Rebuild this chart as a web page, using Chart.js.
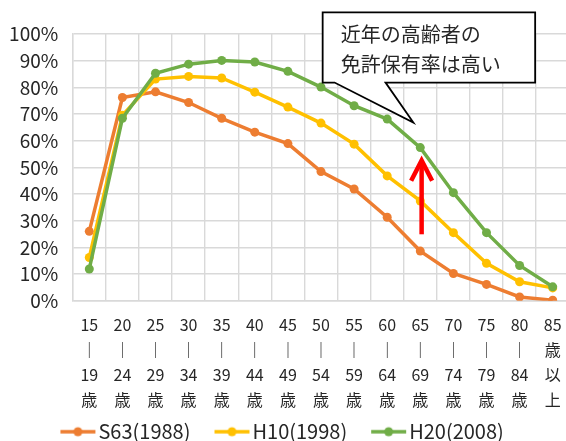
<!DOCTYPE html>
<html>
<head>
<meta charset="utf-8">
<script src="https://cdn.jsdelivr.net/npm/chart.js@4.4.1/dist/chart.umd.min.js"></script>
<style>
  html, body { margin: 0; padding: 0; background: #ffffff; overflow: hidden; }
  #wrap { width: 566px; height: 441px; overflow: hidden; }
  #chart { display: block; }
</style>
</head>
<body>
<!-- the plot runs a few pixels past the visible right edge -->
<div id="wrap"><canvas id="chart" width="570" height="441"></canvas></div>
<script>
// Age groups (x categories), drawn as stacked lines under each column
const ageGroups = [
  ['15', '｜', '19', '歳'], ['20', '｜', '24', '歳'], ['25', '｜', '29', '歳'],
  ['30', '｜', '34', '歳'], ['35', '｜', '39', '歳'], ['40', '｜', '44', '歳'],
  ['45', '｜', '49', '歳'], ['50', '｜', '54', '歳'], ['55', '｜', '59', '歳'],
  ['60', '｜', '64', '歳'], ['65', '｜', '69', '歳'], ['70', '｜', '74', '歳'],
  ['75', '｜', '79', '歳'], ['80', '｜', '84', '歳'], ['85', '歳', '以', '上']
];

// Series names
const seriesNames = ['S63(1988)', 'H10(1998)', 'H20(2008)'];

// License holding rate by age group (%)
const s63 = [26.0, 76.2, 78.3, 74.3, 68.4, 63.2, 58.9, 48.4, 41.9, 31.3, 18.6, 10.2, 6.1, 1.4, 0.2];
const h10 = [16.2, 69.5, 83.1, 84.1, 83.5, 78.2, 72.6, 66.6, 58.7, 46.8, 37.4, 25.5, 14.0, 7.1, 4.8];
const h20 = [11.9, 68.4, 85.3, 88.7, 90.1, 89.5, 86.0, 80.1, 73.1, 68.1, 57.4, 40.5, 25.5, 13.2, 5.2];

// Y axis tick range (%)
const yMin = 0, yMax = 100, yStep = 10;

// Callout text
const calloutLines = ['近年の高齢者の', '免許保有率は高い'];

const colors = ['#ED7D31', '#FFC000', '#70AD47'];
const textColor = '#262626';
const gridColor = '#D9D9D9';
const jpFont = '"Noto Sans CJK JP", "Noto Sans", sans-serif';

// Legend sample: short line with a marker, drawn on a small canvas
function legendSample(color) {
  const c = document.createElement('canvas');
  c.width = 58; c.height = 20;
  const g = c.getContext('2d');
  g.strokeStyle = color; g.lineWidth = 3.5;
  g.beginPath(); g.moveTo(22, 10); g.lineTo(57, 10); g.stroke();
  g.fillStyle = color;
  g.beginPath(); g.arc(39.5, 10, 4.5, 0, Math.PI * 2); g.fill();
  return c;
}
const samples = colors.map(legendSample);

// Callout bubble and red arrow, placed in data units
const annotations = {
  id: 'annotations',
  afterDraw(chart) {
    const { ctx } = chart;
    const xs = chart.scales.x, ys = chart.scales.y;
    const px = v => xs.getPixelForValue(v);
    const py = v => ys.getPixelForValue(v);

    // speech bubble
    const l = px(7.05), r = px(13.47), t = py(108.1), b = py(81.8);
    const tipX = px(9.79), tipY = py(66.8);
    const baseL = px(7.41), baseR = px(8.95);
    ctx.save();
    ctx.beginPath();
    ctx.moveTo(l, t);
    ctx.lineTo(r, t);
    ctx.lineTo(r, b);
    ctx.lineTo(baseR, b);
    ctx.lineTo(tipX, tipY);
    ctx.lineTo(baseL, b);
    ctx.lineTo(l, b);
    ctx.closePath();
    ctx.fillStyle = '#ffffff';
    ctx.fill();
    ctx.lineWidth = 1.8;
    ctx.strokeStyle = '#000000';
    ctx.lineJoin = 'miter';
    ctx.stroke();

    ctx.fillStyle = textColor;
    ctx.font = '20px ' + jpFont;
    ctx.textAlign = 'left';
    ctx.textBaseline = 'middle';
    ctx.fillText(calloutLines[0], px(7.6), py(99.7));
    ctx.fillText(calloutLines[1], px(7.6), py(88.5));

    // red arrow pointing up at the 65-69 column
    const ax = px(10.04);
    const aTip = py(52.6), aTail = py(24.9), aHead = py(45.0);
    ctx.strokeStyle = '#FF0000';
    ctx.lineWidth = 4.5;
    ctx.lineCap = 'butt';
    ctx.beginPath();
    ctx.moveTo(ax, aTail);
    ctx.lineTo(ax, aTip + 2);
    ctx.stroke();
    ctx.beginPath();
    ctx.moveTo(ax - 10.5, aHead);
    ctx.lineTo(ax, aTip);
    ctx.lineTo(ax + 10.5, aHead);
    ctx.stroke();
    ctx.restore();
  }
};

const datasets = [s63, h10, h20].map((vals, i) => ({
  label: seriesNames[i],
  data: vals,
  borderColor: colors[i],
  backgroundColor: colors[i],
  borderWidth: 3.5,
  pointRadius: 4.5,
  pointBorderWidth: 0,
  pointBackgroundColor: colors[i],
  tension: 0,
  order: 2 - i
}));

new Chart(document.getElementById('chart'), {
  type: 'line',
  data: { labels: ageGroups, datasets },
  options: {
    responsive: false,
    animation: false,
    devicePixelRatio: 1,
    layout: {
      autoPadding: false,
      padding: { top: 34, left: -19, right: 0.75, bottom: -10.7 }
    },
    plugins: {
      tooltip: { enabled: false },
      legend: {
        position: 'bottom',
        labels: {
          usePointStyle: true,
          pointStyleWidth: 42,
          padding: 10,
          color: textColor,
          font: { family: jpFont, size: 20 },
          generateLabels: () => seriesNames.map((name, i) => ({
            text: name,
            pointStyle: samples[i],
            fillStyle: colors[i],
            strokeStyle: colors[i],
            lineWidth: 0,
            hidden: false,
            datasetIndex: i,
            fontColor: textColor
          }))
        }
      }
    },
    scales: {
      x: {
        type: 'category',
        offset: true,
        grid: { offset: true, color: gridColor, lineWidth: 1.4, drawTicks: false },
        border: { color: gridColor, width: 1.4 },
        ticks: {
          color: textColor,
          padding: 12,
          maxRotation: 0,
          autoSkip: false,
          font: { family: jpFont, size: 16, lineHeight: 1.55 }
        },
        afterFit(s) { s.height = 111; s.paddingLeft = 0; s.paddingRight = 0; }
      },
      y: {
        min: yMin,
        max: yMax,
        grid: { color: gridColor, lineWidth: 1.4, drawTicks: false },
        border: { color: gridColor, width: 1.4 },
        ticks: {
          stepSize: yStep,
          color: textColor,
          padding: 14.5,
          font: { family: jpFont, size: 19 },
          callback: v => v + '%'
        },
        afterFit(s) { s.width = 91.75; s.paddingTop = 0; s.paddingBottom = 0; }
      }
    }
  },
  plugins: [annotations]
});
</script>
</body>
</html>
